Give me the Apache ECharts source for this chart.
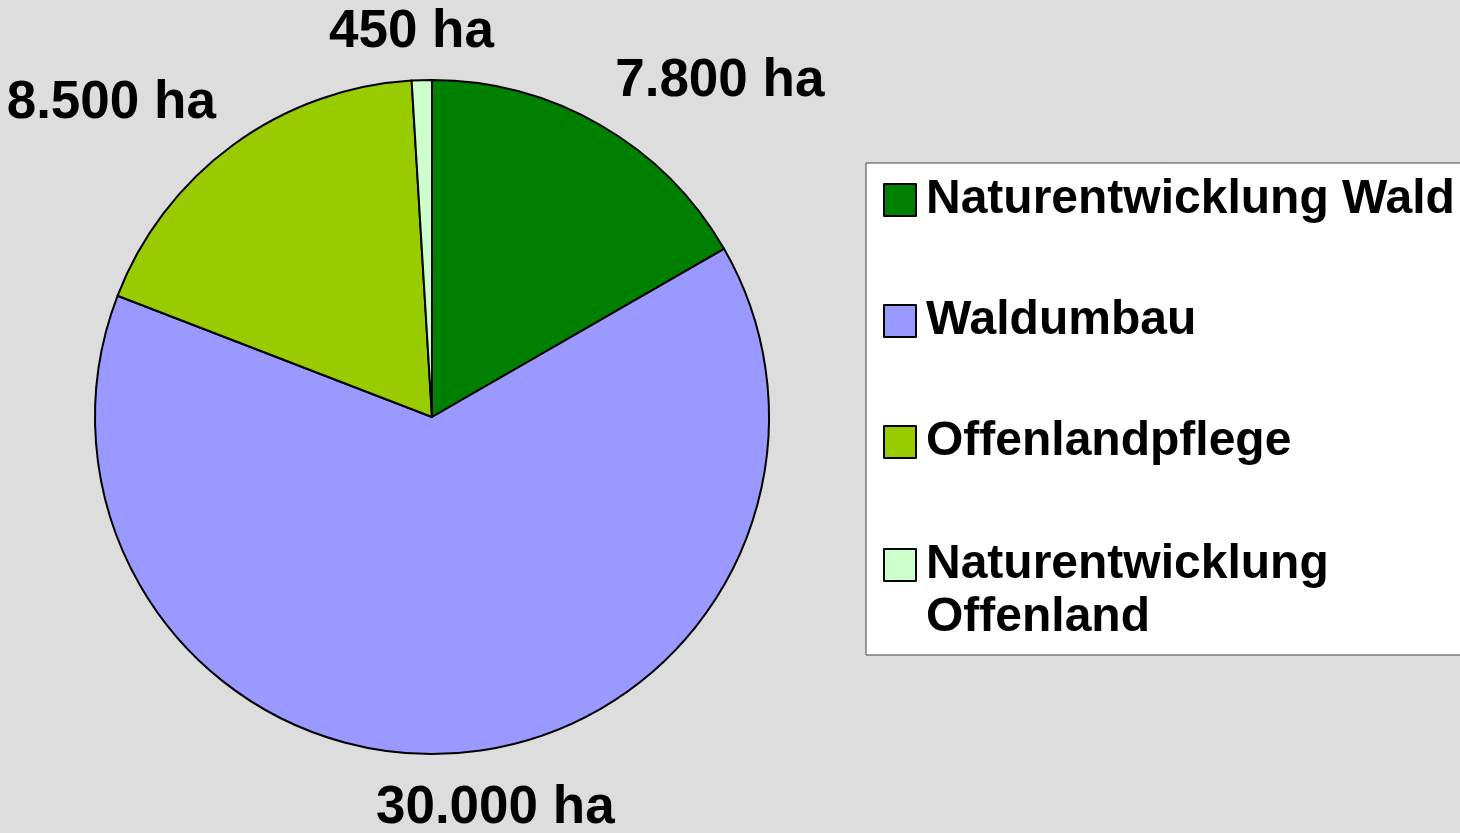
<!DOCTYPE html>
<html>
<head>
<meta charset="utf-8">
<script src="https://cdn.jsdelivr.net/npm/echarts@6/dist/echarts.min.js"></script>
<style>
  html, body { margin: 0; padding: 0; background: #dddddd; }
  #chart { width: 1460px; height: 833px; }
</style>
</head>
<body>
<div id="chart"></div>
<script>
// Flächenanteile (ha)
const categories = ['Naturentwicklung Wald', 'Waldumbau', 'Offenlandpflege', 'Naturentwicklung Offenland'];
const values = [7800, 30000, 8500, 450];
const labels = ['7.800 ha', '30.000 ha', '8.500 ha', '450 ha'];
const colors = ['#008000', '#9999ff', '#99cc00', '#ccffcc'];

const cx = 432, cy = 417, r = 337;
const total = values.reduce((a, b) => a + b, 0);

// Mittelwinkel jedes Segments (Grad, ab 12 Uhr im Uhrzeigersinn)
const midAngles = [];
let acc = 0;
values.forEach((v) => {
  const a = (v / total) * 360;
  midAngles.push(acc + a / 2);
  acc += a;
});

const clamp = (v) => Math.max(0, Math.min(1, v));

const chart = echarts.init(document.getElementById('chart'));

const legendText = {
  fontFamily: 'Liberation Sans, Arial, sans-serif',
  fontWeight: 'bold',
  fontSize: 48,
  lineHeight: 53,
  color: '#000000',
  padding: [0, 0, 0, 5]
};

const option = {
  backgroundColor: '#dddddd',
  textStyle: { fontFamily: 'Liberation Sans, Arial, sans-serif' },
  legend: [
    {
      orient: 'vertical',
      left: 866,
      top: 163,
      padding: [10.5, 30, 186.5, 17],
      backgroundColor: '#ffffff',
      borderColor: '#444444',
      borderWidth: 1,
      borderRadius: 0,
      itemWidth: 32,
      itemHeight: 32,
      itemGap: 68,
      icon: 'rect',
      selectedMode: false,
      itemStyle: { borderColor: '#000000', borderWidth: 2 },
      textStyle: legendText,
      data: categories.slice(0, 3)
    },
    {
      // zweizeiliger Eintrag: Symbol auf Höhe der ersten Zeile
      orient: 'vertical',
      left: 883,
      top: 485.5,
      padding: 0,
      itemWidth: 32,
      itemHeight: 32,
      icon: 'rect',
      selectedMode: false,
      itemStyle: { borderColor: '#000000', borderWidth: 2 },
      formatter: () => ' \nNaturentwicklung\nOffenland',
      textStyle: legendText,
      data: categories.slice(3)
    }
  ],
  series: [
    {
      type: 'pie',
      center: [cx, cy],
      radius: r,
      startAngle: 90,
      clockwise: true,
      avoidLabelOverlap: false,
      animation: false,
      color: colors,
      itemStyle: { borderColor: '#000000', borderWidth: 2 },
      emphasis: { disabled: true },
      label: {
        show: true,
        position: 'outside',
        formatter: (p) => labels[p.dataIndex],
        fontFamily: 'Liberation Sans, Arial, sans-serif',
        fontWeight: 'bold',
        fontSize: 53,
        color: '#000000'
      },
      labelLine: { show: false },
      labelLayout: (params) => {
        const i = params.dataIndex;
        const ang = (midAngles[i] * Math.PI) / 180;
        const s = Math.sin(ang), c = Math.cos(ang);
        const ax = cx + (r + 29) * s;
        const ay = cy - (r + 29) * c;
        const w = params.labelRect.width, h = params.labelRect.height * 0.85;
        const fx = clamp(0.5 - 1.9 * s);
        const fy = clamp(0.5 + 1.9 * c);
        return {
          x: ax - fx * w,
          y: ay - fy * h,
          align: 'left',
          verticalAlign: 'top'
        };
      },
      data: categories.map((name, i) => ({ name, value: values[i] }))
    }
  ]
};

chart.setOption(option);
</script>
</body>
</html>
